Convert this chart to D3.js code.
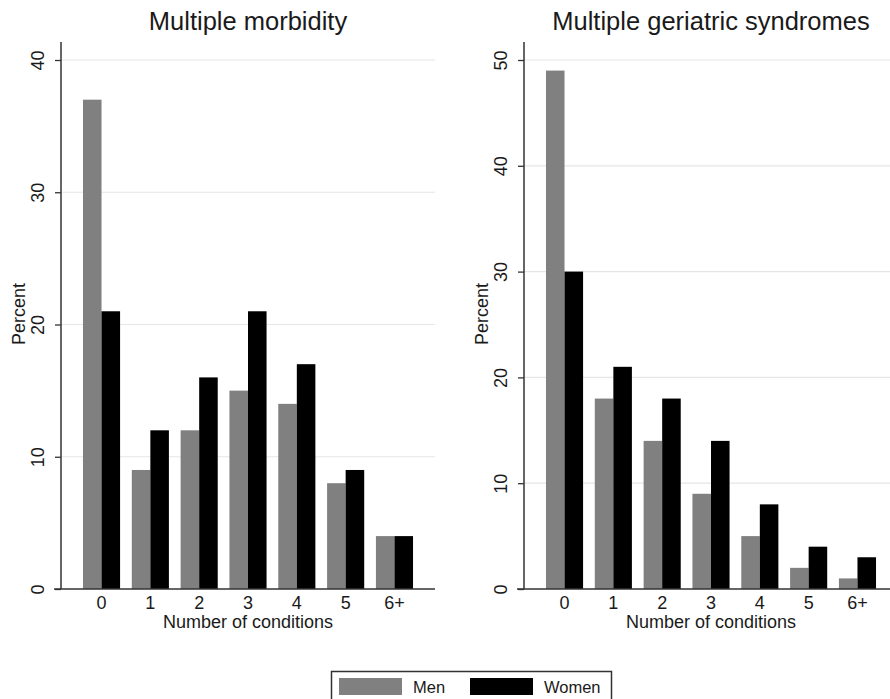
<!DOCTYPE html>
<html>
<head>
<meta charset="utf-8">
<script src="https://cdn.jsdelivr.net/npm/d3@7"></script>
<style>
    body { margin: 0; background: #fff; }
    svg { display: block; font-family: "Liberation Sans", Arial, Helvetica, sans-serif; }
</style>
</head>
<body>
<div id="chart"></div>
<script>
// Data
const categories = ['0', '1', '2', '3', '4', '5', '6+'];
const seriesNames = ['Men', 'Women'];
const morbidityMen = [37, 9, 12, 15, 14, 8, 4];
const morbidityWomen = [21, 12, 16, 21, 17, 9, 4];
const geriatricMen = [49, 18, 14, 9, 5, 2, 1];
const geriatricWomen = [30, 21, 18, 14, 8, 4, 3];
const morbidityTicks = [0, 10, 20, 30, 40];
const geriatricTicks = [0, 10, 20, 30, 40, 50];

const width = 890;
const height = 699;
const colors = {Men: '#808080', Women: '#000000'};
const textColor = '#1a1a1a';

const svg = d3.select('#chart')
    .append('svg')
    .attr('width', width)
    .attr('height', height);

function drawPanel(title, men, women, ticks, left) {
    const x0 = left;
    const x1 = left + 374;
    const yBottom = 589;
    const yTop = 60;

    const x = d3.scaleBand()
        .domain(categories)
        .range([x0, x1])
        .paddingInner(0.24)
        .paddingOuter(0.45);

    const xSub = d3.scaleBand()
        .domain(seriesNames)
        .range([0, x.bandwidth()]);

    const y = d3.scaleLinear()
        .domain([0, d3.max(ticks)])
        .range([yBottom, yTop]);

    const g = svg.append('g');

    // gridlines
    g.append('g')
        .selectAll('line')
        .data(ticks.filter(t => t > 0))
        .enter().append('line')
        .attr('x1', x0)
        .attr('x2', x1)
        .attr('y1', d => y(d))
        .attr('y2', d => y(d))
        .attr('stroke', '#e6e6e6')
        .attr('stroke-width', 1.2);

    // bars
    const rows = categories.map((c, i) => ({cat: c, Men: men[i], Women: women[i]}));
    g.append('g')
        .selectAll('g')
        .data(rows)
        .enter().append('g')
        .attr('transform', d => `translate(${x(d.cat)},0)`)
        .selectAll('rect')
        .data(d => seriesNames.map(s => ({series: s, value: d[s]})))
        .enter().append('rect')
        .attr('x', d => xSub(d.series))
        .attr('width', xSub.bandwidth())
        .attr('y', d => y(d.value))
        .attr('height', d => yBottom - y(d.value))
        .attr('fill', d => colors[d.series]);

    // y axis
    const yAxis = g.append('g')
        .attr('transform', `translate(${x0},0)`)
        .call(d3.axisLeft(y).tickValues(ticks).tickSize(6).tickSizeOuter(0));
    yAxis.select('.domain').remove();
    yAxis.selectAll('.tick line').attr('stroke', '#333').attr('stroke-width', 1.3);
    yAxis.selectAll('.tick text')
        .attr('x', 0)
        .attr('y', -17)
        .attr('dy', 0)
        .attr('transform', 'rotate(-90)')
        .attr('text-anchor', 'middle')
        .attr('font-size', 18)
        .attr('font-family', null)
        .attr('fill', textColor);

    g.append('line')
        .attr('x1', x0).attr('x2', x0)
        .attr('y1', 42).attr('y2', yBottom)
        .attr('stroke', '#333')
        .attr('stroke-width', 1.5);

    // x axis line
    g.append('line')
        .attr('x1', x0 - 7).attr('x2', x1)
        .attr('y1', yBottom).attr('y2', yBottom)
        .attr('stroke', '#333')
        .attr('stroke-width', 1.5);

    g.append('g')
        .selectAll('text')
        .data(categories)
        .enter().append('text')
        .attr('x', d => x(d) + x.bandwidth() / 2)
        .attr('y', 609)
        .attr('text-anchor', 'middle')
        .attr('font-size', 18)
        .attr('fill', textColor)
        .text(d => d);

    const mid = (x0 + x1) / 2;

    g.append('text')
        .attr('x', mid)
        .attr('y', 628)
        .attr('text-anchor', 'middle')
        .attr('font-size', 18)
        .attr('fill', textColor)
        .text('Number of conditions');

    g.append('text')
        .attr('transform', `translate(${x0 - 36},314) rotate(-90)`)
        .attr('text-anchor', 'middle')
        .attr('font-size', 18)
        .attr('fill', textColor)
        .text('Percent');

    g.append('text')
        .attr('x', mid)
        .attr('y', 30)
        .attr('text-anchor', 'middle')
        .attr('font-size', 25.5)
        .attr('fill', textColor)
        .text(title);
}

drawPanel('Multiple morbidity', morbidityMen, morbidityWomen, morbidityTicks, 61);
drawPanel('Multiple geriatric syndromes', geriatricMen, geriatricWomen, geriatricTicks, 524);

// Legend
const legend = svg.append('g');
legend.append('rect')
    .attr('x', 331.5)
    .attr('y', 671.5)
    .attr('width', 280)
    .attr('height', 40)
    .attr('fill', '#fff')
    .attr('stroke', '#333')
    .attr('stroke-width', 1.5);

const legendX = {Men: 339, Women: 470};
seriesNames.forEach(s => {
    legend.append('rect')
        .attr('x', legendX[s])
        .attr('y', 678)
        .attr('width', 63)
        .attr('height', 17)
        .attr('fill', colors[s]);
    legend.append('text')
        .attr('x', legendX[s] + 74)
        .attr('y', 693)
        .attr('font-size', 16.5)
        .attr('fill', textColor)
        .text(s);
});
</script>
</body>
</html>
